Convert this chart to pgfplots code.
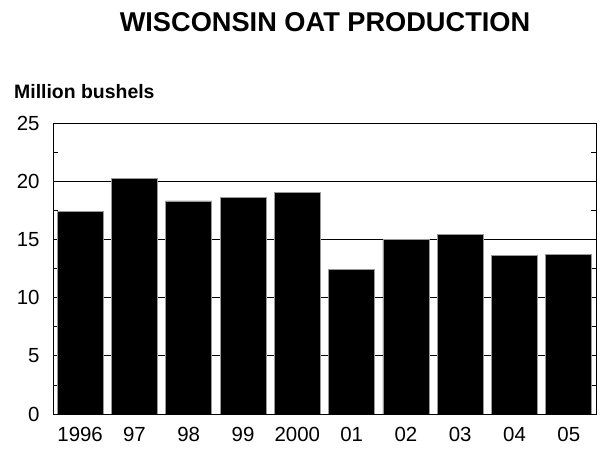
\documentclass[border=0pt]{standalone}
\usepackage{fontspec}
\setmainfont{Liberation Sans}
\usepackage{pgfplots}
\pgfplotsset{compat=1.18}
\begin{document}
\begin{tikzpicture}
\useasboundingbox (0,0) rectangle (602bp,451bp);
\begin{axis}[
  at={(53bp,37bp)}, anchor=south west,
  scale only axis, width=543bp, height=291bp,
  xmin=-0.5, xmax=9.5, ymin=0, ymax=25,
  xtick=data,
  xticklabels={1996,97,98,99,2000,01,02,03,04,05},
  x tick label style={yshift=-10bp},
  major x tick style={draw=none},
  ytick={0,5,...,25},
  minor ytick={2.5,7.5,...,22.5},
  tick align=inside,
  major tick length=0pt,
  minor tick length=5bp,
  minor tick style={black, line width=0.6pt},
  ymajorgrids, major grid style={black, line width=0.9pt},
  y tick label style={xshift=-10bp},
  ticklabel style={font=\fontsize{20.5}{24}\selectfont},
  /pgf/number format/assume math mode=true,
  axis line style={black, line width=1pt},
  ybar, bar width=46bp,
]
\addplot[fill=black, draw=gray!80, line width=0.8pt] coordinates {
 (0,17.4) (1,20.2) (2,18.3) (3,18.6) (4,19.0)
 (5,12.4) (6,15.0) (7,15.4) (8,13.6) (9,13.7)};
\end{axis}
\node[anchor=base, font=\bfseries\fontsize{27.3}{32}\selectfont] at (325bp,419.5bp) {WISCONSIN OAT PRODUCTION};
\node[anchor=base west, inner sep=0pt, font=\bfseries\fontsize{19.5}{23}\selectfont] at (14bp,352bp) {Million bushels};
\end{tikzpicture}
\end{document}
